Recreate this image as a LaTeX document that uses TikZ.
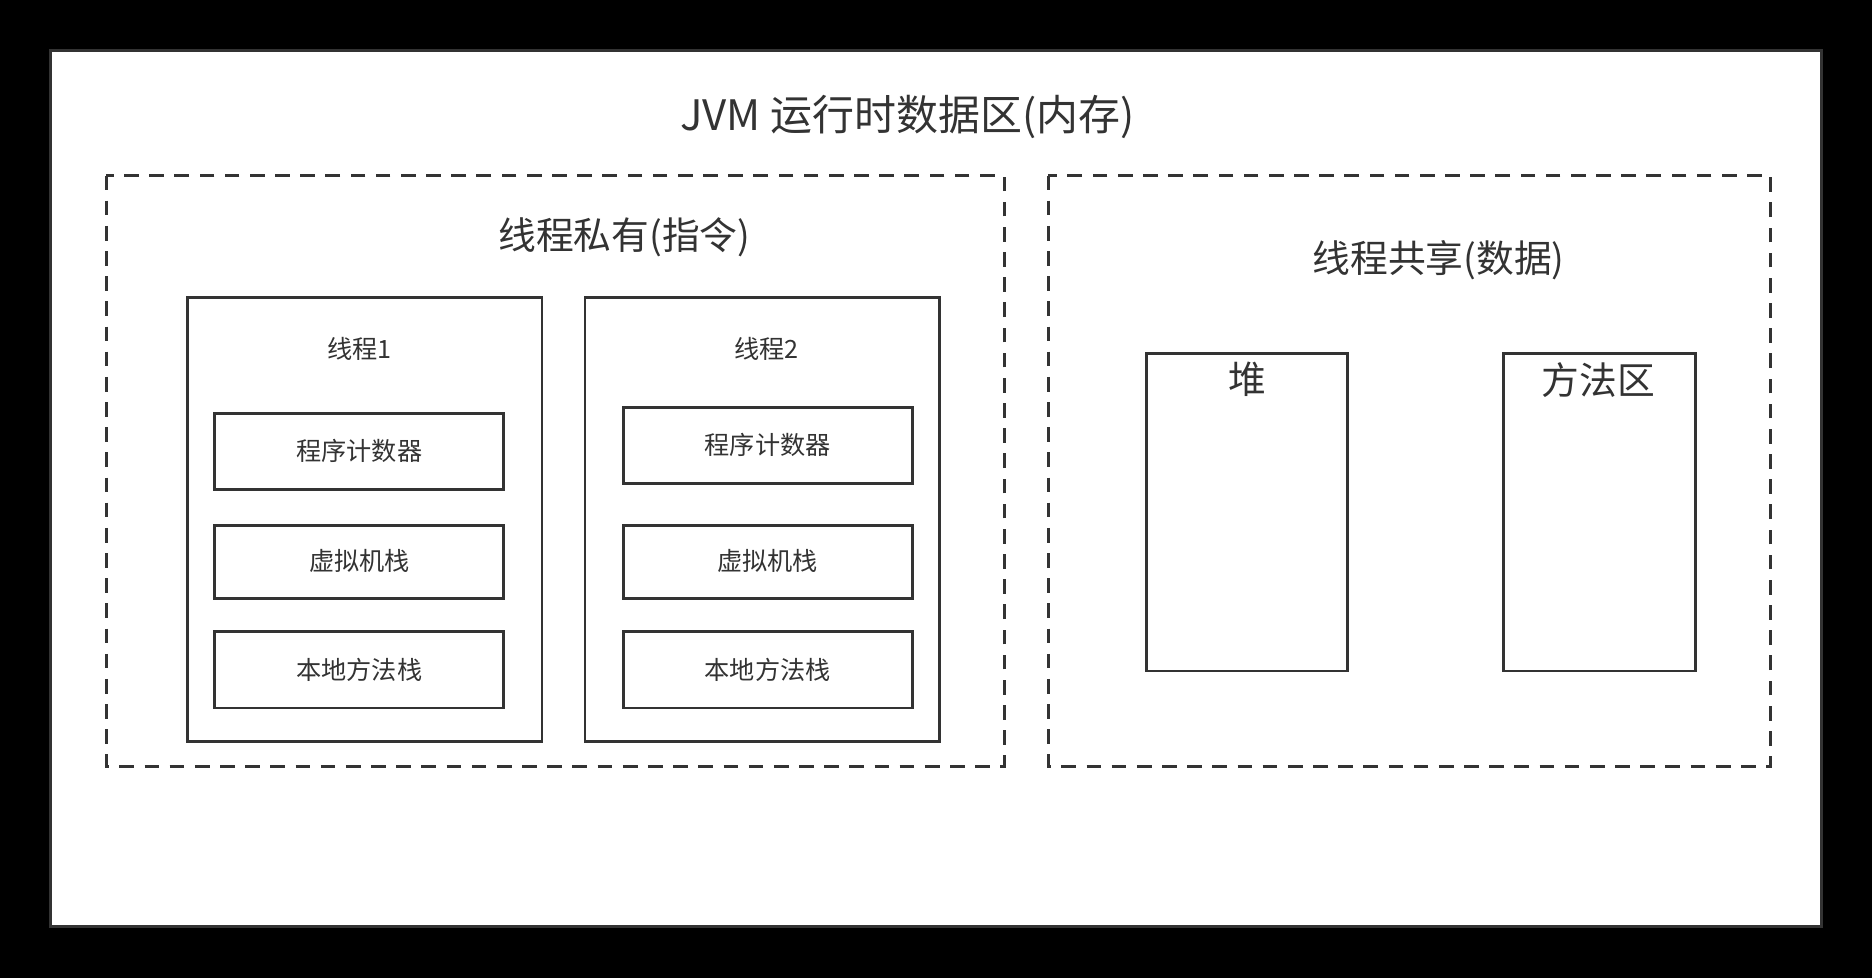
\documentclass[tikz,border=0pt]{standalone}
\usepackage{fontspec}
\setmainfont{Noto Sans CJK SC}
\begin{document}
\begin{tikzpicture}
    [%%%%%%%%%%%%%%%%%%%%%%%%%%%%%%
        x=0.02cm, y=-0.02cm,
        box/.style={rectangle,draw=black!80,line width=1.4pt,fill=white},
        dashbox/.style={rectangle,draw=black!80,line width=1.4pt,dash pattern=on 7pt off 5pt},
        small/.style={font=\fontsize{12}{14}\selectfont, text=black!80},
        big/.style={font=\fontsize{18}{20}\selectfont, text=black!80},
    ]%%%%%%%%%%%%%%%%%%%%%%%%%%%%%%
\fill[black] (0,0) rectangle (1568,819);
\draw[box] (42,42) rectangle (1526,776);
\node[font=\fontsize{20}{22}\selectfont, text=black!80] (title) at (760,98) {JVM 运行时数据区(内存)};
% private
\draw[dashbox] (89,147) rectangle (841,642);
\node[big] (private) at (523,199) {线程私有(指令)};
\draw[box] (157,249) rectangle (454,621);
\draw[box] (490,249) rectangle (787,621);
\node[small] (t1) at (301,292) {线程1};
\node[small] (t2) at (642,292) {线程2};
\draw[box] (180,346) rectangle (422,410);
\node[small] (pc1) at (301,378) {程序计数器};
\draw[box] (180,440) rectangle (422,501);
\node[small] (vm1) at (301,470) {虚拟机栈};
\draw[box] (180,529) rectangle (422,593);
\node[small] (nm1) at (301,561) {本地方法栈};
\draw[box] (522,341) rectangle (764,405);
\node[small] (pc2) at (643,373) {程序计数器};
\draw[box] (522,440) rectangle (764,501);
\node[small] (vm2) at (643,470) {虚拟机栈};
\draw[box] (522,529) rectangle (764,593);
\node[small] (nm2) at (643,561) {本地方法栈};
% shared
\draw[dashbox] (878,147) rectangle (1483,642);
\node[big] (shared) at (1205,218) {线程共享(数据)};
\draw[box] (960,296) rectangle (1129,562);
\node[big] (heap) at (1045,318) {堆};
\draw[box] (1259,296) rectangle (1420,562);
\node[big] (method) at (1339,318) {方法区};
\end{tikzpicture}
\end{document}
